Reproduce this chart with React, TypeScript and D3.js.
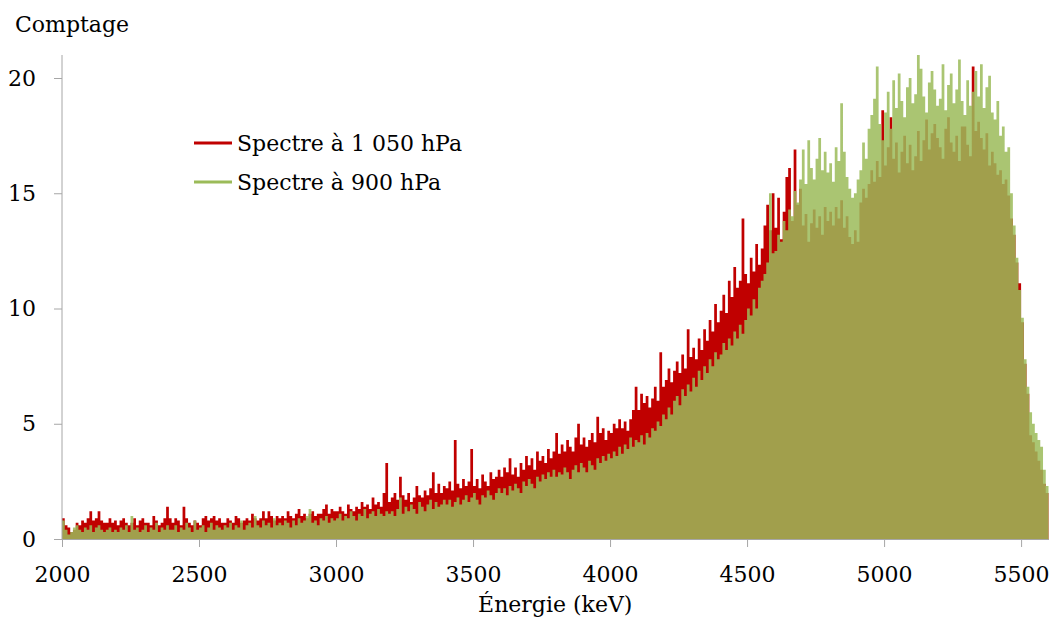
import React, {useEffect, useRef} from "react";
import * as d3 from "d3";

const ColorRed: string = "#C00000";
const ColorGreen: string = "#9BBB59";
const ColorAxis: string = "#A6A6A6";
const FontFamily: string = "'DejaVu Serif', serif";

// one value per 10 keV channel, from 2000 keV
const BIN_START = 2000;
const BIN_WIDTH = 10;

const spectre1050: number[] = [
  0.9, 0.6, 0.5, 0.3, 0.4, 0.7, 0.6, 0.8, 0.7, 0.9, 1.2, 0.8, 0.9, 1.2, 0.8, 0.7, 0.7, 0.9, 0.7, 0.8,
  0.6, 0.8, 0.9, 0.7, 0.6, 0.7, 0.9, 0.6, 0.8, 0.9, 0.7, 0.7, 0.6, 1.0, 0.8, 0.6, 0.7, 0.9, 1.4, 0.9,
  0.7, 0.9, 0.8, 0.6, 1.4, 0.9, 0.7, 0.6, 0.8, 0.7, 0.6, 0.9, 1.0, 0.8, 0.9, 1.0, 0.8, 0.9, 0.7, 0.7,
  0.9, 0.8, 0.7, 1.0, 0.9, 0.7, 0.8, 0.9, 0.8, 1.1, 0.9, 0.8, 0.9, 1.2, 0.9, 1.2, 1.0, 0.8, 1.0, 0.9,
  1.0, 0.9, 1.2, 1.0, 0.9, 1.1, 1.3, 1.0, 1.1, 0.9, 1.1, 1.2, 1.0, 1.1, 1.1, 1.3, 1.5, 1.1, 1.3, 1.2,
  1.2, 1.4, 1.2, 1.1, 1.5, 1.3, 1.2, 1.4, 1.3, 1.6, 1.4, 1.5, 1.3, 1.8, 1.5, 1.6, 1.4, 2.0, 3.3, 1.6,
  1.8, 2.0, 1.7, 2.7, 1.9, 1.7, 2.0, 1.6, 1.8, 2.3, 1.9, 1.8, 2.1, 1.9, 2.2, 2.9, 2.0, 2.4, 2.0, 2.3,
  2.2, 2.5, 2.1, 4.3, 2.4, 2.2, 2.6, 2.3, 2.5, 3.9, 2.3, 2.6, 2.2, 2.8, 2.5, 2.3, 2.9, 2.6, 2.7, 3.0,
  2.7, 3.1, 2.9, 3.5, 2.8, 3.1, 2.7, 3.3, 3.0, 3.6, 3.2, 3.5, 3.0, 3.8, 3.4, 3.6, 3.3, 3.9, 3.5, 3.8,
  4.6, 3.7, 4.1, 3.8, 4.3, 4.0, 3.8, 4.4, 5.0, 4.1, 4.4, 4.0, 4.3, 4.6, 4.2, 5.3, 4.6, 4.8, 4.3, 4.7,
  4.6, 5.0, 4.8, 5.2, 4.8, 5.1, 4.7, 5.2, 5.6, 6.6, 5.6, 6.3, 5.9, 6.2, 5.7, 6.1, 6.6, 6.0, 8.1, 6.6,
  6.9, 7.4, 6.8, 7.3, 7.7, 7.2, 8.0, 7.4, 9.1, 7.9, 8.3, 7.8, 8.7, 8.2, 9.1, 8.6, 9.5, 9.0, 10.2, 9.4,
  9.9, 10.6, 9.8, 11.2, 10.5, 11.8, 10.9, 11.2, 13.9, 11.5, 11.1, 12.2, 11.6, 12.8, 11.9, 12.6, 13.6, 14.5, 13.4, 15.0,
  13.5, 14.8, 13.0, 14.2, 15.7, 16.1, 13.8, 16.9, 14.5, 15.2, 13.6, 14.1, 12.9, 13.7, 14.3, 13.5, 14.0, 13.2, 14.4, 13.8,
  14.2, 13.6, 14.4, 13.9, 14.7, 13.5, 14.0, 13.1, 12.8, 13.4, 12.9, 14.6, 15.2, 14.8, 15.4, 16.0, 15.5, 16.4, 15.7, 18.6,
  16.2, 17.0, 18.3, 16.5, 17.2, 15.9, 16.8, 17.5, 16.3, 17.1, 16.0, 16.6, 17.7, 16.4, 17.3, 18.2, 16.9, 17.6, 18.0, 17.4,
  17.0, 16.5, 17.8, 18.3, 17.2, 16.8, 17.5, 16.4, 17.9, 17.9, 17.1, 16.6, 20.5, 17.7, 18.1, 17.4, 16.9, 17.6, 16.2, 16.8,
  16.3, 15.8, 16.0, 15.4, 15.6, 14.9, 13.9, 13.2, 12.0, 11.1, 9.4, 7.6, 6.3, 4.5, 4.2, 3.8, 3.4, 3.0, 2.4, 2.0,
];

const spectre900: number[] = [
  0.8, 0.4, 0.2, 0.3, 0.5, 0.6, 0.4, 0.3, 0.5, 0.4, 0.6, 0.3, 0.5, 0.6, 0.4, 0.3, 0.4, 0.5, 0.3, 0.4,
  0.3, 0.5, 0.4, 0.6, 0.3, 1.0, 0.4, 0.5, 0.3, 0.4, 0.6, 0.3, 0.5, 0.4, 0.7, 0.3, 0.5, 0.4, 0.6, 0.4,
  0.4, 0.6, 0.3, 0.5, 0.4, 0.7, 0.5, 0.3, 0.8, 0.4, 0.5, 0.6, 0.3, 0.5, 0.7, 0.4, 0.6, 0.5, 0.4, 0.6,
  0.5, 0.7, 0.4, 0.6, 0.5, 0.8, 0.4, 0.6, 0.7, 0.5, 1.0, 0.6, 0.5, 0.8, 0.6, 0.7, 0.5, 0.9, 0.6, 0.7,
  0.6, 0.8, 0.7, 0.5, 0.8, 0.6, 0.9, 0.7, 0.8, 1.0, 1.3, 0.7, 0.8, 0.6, 0.9, 0.8, 1.0, 0.7, 0.9, 0.8,
  0.9, 1.1, 0.8, 1.0, 0.9, 1.2, 1.0, 0.8, 1.1, 1.0, 1.3, 0.9, 1.1, 1.2, 1.0, 1.3, 1.1, 1.0, 1.2, 1.1,
  1.2, 1.0, 1.3, 1.8, 1.1, 1.4, 1.2, 1.5, 1.3, 1.1, 1.6, 1.4, 1.2, 1.5, 1.7, 1.3, 1.6, 1.4, 1.5, 1.7,
  1.5, 1.7, 1.4, 1.6, 1.8, 1.5, 1.7, 1.9, 1.6, 1.8, 2.0, 1.7, 1.5, 1.9, 1.8, 2.1, 1.9, 1.7, 2.0, 2.2,
  2.0, 2.2, 1.9, 2.3, 2.1, 2.4, 2.2, 2.0, 2.5, 2.3, 2.6, 2.4, 2.2, 2.7, 2.5, 2.8, 2.6, 2.9, 2.7, 3.0,
  2.7, 2.9, 2.8, 3.1, 2.9, 2.6, 3.0, 3.2, 2.9, 3.3, 3.1, 2.9, 3.4, 3.2, 3.0, 3.5, 3.3, 3.6, 3.4, 3.7,
  3.5, 3.8, 3.6, 4.0, 3.7, 4.1, 3.9, 4.4, 4.0, 4.3, 4.2, 4.5, 4.1, 4.6, 4.4, 4.8, 4.7, 5.1, 4.9, 5.4,
  5.2, 5.7, 5.4, 6.0, 6.2, 5.8, 6.5, 6.2, 6.7, 6.4, 7.0, 6.6, 7.3, 6.9, 7.5, 7.2, 7.8, 7.5, 8.1, 7.8,
  8.0, 8.5, 8.2, 8.7, 8.4, 9.0, 8.7, 9.3, 8.9, 9.5, 10.0, 9.7, 10.4, 10.0, 10.9, 11.2, 11.5, 12.0, 15.0, 12.4,
  12.5, 13.2, 12.9, 13.8, 13.4, 14.3, 14.0, 15.1, 14.6, 15.6, 16.9, 15.4, 17.3, 16.1, 15.6, 16.5, 17.4, 16.0, 16.8, 15.9,
  16.3, 15.5, 17.0, 16.4, 18.9, 16.8, 15.7, 15.2, 14.8, 15.0, 15.6, 16.0, 17.2, 16.5, 17.8, 18.4, 19.1, 20.5, 18.0, 17.3,
  18.5, 19.4, 17.8, 19.9, 18.7, 20.2, 19.0, 18.3, 19.6, 20.0, 18.9, 19.3, 21.0, 20.4, 19.2, 18.5, 19.8, 20.3, 19.5, 18.8,
  19.1, 20.6, 18.6, 19.7, 20.2, 18.9, 19.5, 20.8, 19.0, 18.4, 19.9, 18.8, 19.4, 20.3, 19.2, 20.6, 18.7, 19.6, 20.1, 18.5,
  18.2, 19.0, 17.5, 17.9, 16.8, 17.0, 15.0, 13.6, 12.2, 10.8, 9.6, 7.8, 6.6, 5.5, 5.0, 4.6, 4.3, 4.0, 3.0, 2.3,
];

const seriesNames: string[] = ["Spectre à 1 050 hPa", "Spectre à 900 hPa"];
const xTicks: number[] = [2000, 2500, 3000, 3500, 4000, 4500, 5000, 5500];
const yTicks: number[] = [0, 5, 10, 15, 20];

interface Bin {
  e: number;
  v: number;
}

function toBins(values: number[]): Bin[] {
  const bins = values.map((v, i) => ({e: BIN_START + i * BIN_WIDTH, v: v}));
  // closing edge so the last channel gets its full width
  bins.push({e: BIN_START + values.length * BIN_WIDTH, v: values[values.length - 1]});
  return bins;
}

export default function App(): React.ReactElement {
  const svgRef = useRef<SVGSVGElement>(null);

  const width = 1053;
  const height = 624;
  const margin = {top: 78, left: 62, bottom: 85, right: 4.5};

  useEffect(() => {
    if (svgRef.current === null) return;
    const svg = d3.select(svgRef.current);
    svg.selectAll("*").remove();

    const x = d3.scaleLinear()
      .domain([BIN_START, BIN_START + spectre1050.length * BIN_WIDTH])
      .range([margin.left, width - margin.right]);
    const y = d3.scaleLinear().domain([0, 20]).range([height - margin.bottom, margin.top]);

    const area = d3.area<Bin>()
      .x((d) => x(d.e))
      .y0(y(0))
      .y1((d) => y(d.v))
      .curve(d3.curveStepAfter);

    svg.append("path")
      .attr("d", area(toBins(spectre1050)) as string)
      .attr("fill", ColorRed);

    svg.append("path")
      .attr("d", area(toBins(spectre900)) as string)
      .attr("fill", ColorGreen)
      .attr("fill-opacity", 0.85);

    // y axis
    const yAxis = svg.append("g")
      .attr("transform", `translate(${margin.left},0)`)
      .call(d3.axisLeft(y).tickValues(yTicks).tickSize(8).tickPadding(18));
    yAxis.select(".domain").remove();
    yAxis.append("line")
      .attr("x1", 0).attr("x2", 0)
      .attr("y1", y(0)).attr("y2", 55)
      .attr("stroke", ColorAxis);

    // x axis
    const xAxis = svg.append("g")
      .attr("transform", `translate(0,${y(0)})`)
      .call(d3.axisBottom(x).tickValues(xTicks).tickSize(8).tickSizeOuter(0).tickPadding(19).tickFormat(d3.format("d")));

    [yAxis, xAxis].forEach((axis) => {
      axis.selectAll("line").attr("stroke", ColorAxis);
      axis.selectAll(".domain").attr("stroke", ColorAxis);
      axis.selectAll("text")
        .attr("fill", "#000")
        .style("font-family", FontFamily)
        .style("font-size", "22px");
    });

    svg.append("text")
      .attr("x", 15)
      .attr("y", 32)
      .style("font-family", FontFamily)
      .style("font-size", "22px")
      .text("Comptage");

    svg.append("text")
      .attr("x", (margin.left + width - margin.right) / 2)
      .attr("y", 612)
      .attr("text-anchor", "middle")
      .style("font-family", FontFamily)
      .style("font-size", "22px")
      .text("Énergie (keV)");

    const legend = svg.append("g").attr("transform", "translate(194,143)");
    [ColorRed, ColorGreen].forEach((color, i) => {
      const row = legend.append("g").attr("transform", `translate(0,${i * 39})`);
      row.append("line")
        .attr("x1", 0).attr("x2", 38)
        .attr("stroke", color)
        .attr("stroke-width", 3);
      row.append("text")
        .attr("x", 43)
        .attr("dy", "0.35em")
        .style("font-family", FontFamily)
        .style("font-size", "22px")
        .text(seriesNames[i]);
    });
  }, []);

  return (
    <svg ref={svgRef} width={width} height={height}
         style={{position: "absolute", left: 0, top: 0, background: "#fff"}}></svg>
  );
}
